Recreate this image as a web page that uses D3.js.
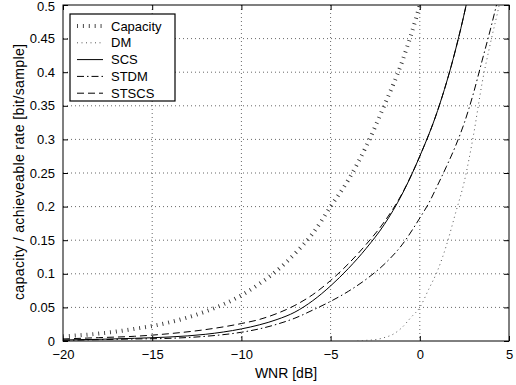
<!DOCTYPE html>
<html>
<head>
<meta charset="utf-8">
<script src="https://cdn.jsdelivr.net/npm/d3@7"></script>
<style>
  body { margin: 0; background: #fff; }
  text { font-family: "Liberation Sans", Arial, sans-serif; }
</style>
</head>
<body>
<div id="graph"></div>
<script>
// values: [WNR dB, rate]
const capacity = [[-20, 0.007], [-18, 0.011], [-16, 0.018], [-14, 0.028], [-12, 0.044], [-10, 0.068],
  [-9, 0.085], [-8, 0.105], [-7, 0.13], [-6, 0.16], [-5, 0.2], [-4, 0.24], [-3, 0.29], [-2, 0.35],
  [-1, 0.415], [0, 0.5], [0.3, 0.53]]
const dm = [[-3.5, 0], [-3, 0.001], [-2.5, 0.002], [-2, 0.005], [-1.5, 0.01], [-1, 0.02], [-0.5, 0.035],
  [0, 0.05], [0.5, 0.077], [1, 0.105], [1.5, 0.143], [2, 0.19], [2.5, 0.238], [3, 0.305], [3.5, 0.385],
  [4, 0.448], [4.45, 0.5], [4.6, 0.52]]
const scs = [[-20, 0.0015], [-18, 0.0025], [-16, 0.004], [-14, 0.006], [-12, 0.01], [-10, 0.018],
  [-9, 0.024], [-8, 0.032], [-7, 0.043], [-6, 0.06], [-5, 0.082], [-4, 0.108], [-3, 0.138], [-2, 0.173],
  [-1, 0.218], [0, 0.275], [1, 0.343], [2, 0.433], [2.6, 0.5], [2.8, 0.525]]
const stdm = [[-20, 0.001], [-18, 0.002], [-16, 0.003], [-14, 0.004], [-12, 0.007], [-10, 0.013],
  [-9, 0.018], [-8, 0.025], [-7, 0.034], [-6, 0.046], [-5, 0.059], [-4, 0.074], [-3, 0.092], [-2, 0.114],
  [-1, 0.143], [0, 0.183], [0.5, 0.205], [1, 0.232], [1.5, 0.26], [2, 0.29], [2.5, 0.325],
  [3, 0.368], [3.5, 0.418], [4, 0.468], [4.3, 0.5], [4.5, 0.52]]
const stscs = [[-20, 0.003], [-18, 0.005], [-16, 0.007], [-14, 0.011], [-12, 0.017], [-10, 0.026],
  [-9, 0.032], [-8, 0.041], [-7, 0.053], [-6, 0.069], [-5, 0.09], [-4, 0.115], [-3, 0.144], [-2, 0.177],
  [-1, 0.219], [0, 0.275], [1, 0.343], [2, 0.433], [2.6, 0.5], [2.8, 0.525]]

const seriesNames = ["Capacity", "DM", "SCS", "STDM", "STSCS"]
const xTicks = [-20, -15, -10, -5, 0, 5]
const yTicks = [0, 0.05, 0.1, 0.15, 0.2, 0.25, 0.3, 0.35, 0.4, 0.45, 0.5]

const MARGIN = { LEFT: 63, RIGHT: 7, TOP: 5, BOTTOM: 44 }
const WIDTH = 516 - MARGIN.LEFT - MARGIN.RIGHT
const HEIGHT = 385 - MARGIN.TOP - MARGIN.BOTTOM

const svg = d3.select("#graph").append("svg")
  .attr("width", 516)
  .attr("height", 385)

const g = svg.append("g")
  .attr("transform", `translate(${MARGIN.LEFT}, ${MARGIN.TOP})`)

const x = d3.scaleLinear().domain([-20, 5]).range([0, WIDTH])
const y = d3.scaleLinear().domain([0, 0.5]).range([HEIGHT, 0])

svg.append("defs").append("clipPath").attr("id", "plot")
  .append("rect").attr("width", WIDTH).attr("height", HEIGHT)

// grid
g.append("g").selectAll("line").data(xTicks.slice(1, -1)).enter().append("line")
  .attr("x1", d => x(d)).attr("x2", d => x(d)).attr("y1", 0).attr("y2", HEIGHT)
  .attr("stroke", "#000").attr("stroke-width", 0.6).attr("stroke-dasharray", "1,3")
g.append("g").selectAll("line").data(yTicks.slice(1, -1)).enter().append("line")
  .attr("y1", d => y(d)).attr("y2", d => y(d)).attr("x1", 0).attr("x2", WIDTH)
  .attr("stroke", "#000").attr("stroke-width", 0.6).attr("stroke-dasharray", "1,3")

// axes, ticks inside on all four sides
const tick = 5
const fmt = d => d < 0 ? "\u2212" + Math.abs(d) : String(d)
g.append("g").attr("transform", `translate(0, ${HEIGHT})`)
  .call(d3.axisBottom(x).tickValues(xTicks).tickSize(-tick).tickPadding(tick + 4).tickFormat(fmt))
g.append("g").call(d3.axisTop(x).tickValues(xTicks).tickSize(-tick).tickFormat(""))
const yAxis = g.append("g")
  .call(d3.axisLeft(y).tickValues(yTicks).tickSize(-tick).tickPadding(tick + 3).tickFormat(d => String(d)))
g.append("g").attr("transform", `translate(${WIDTH}, 0)`)
  .call(d3.axisRight(y).tickValues(yTicks).tickSize(-tick).tickFormat(""))
g.selectAll(".domain").remove()
g.selectAll(".tick text").attr("font-size", "13px").attr("font-family", "Liberation Sans, Arial, sans-serif").attr("fill", "#000")
g.selectAll(".tick line").attr("stroke", "#000")
// keep the top label inside the picture
yAxis.selectAll(".tick text").filter(d => d === 0.5).attr("dy", "0.45em")
g.append("rect").attr("width", WIDTH).attr("height", HEIGHT)
  .attr("fill", "none").attr("stroke", "#000").attr("stroke-width", 1)

// curves
const styles = {
  Capacity: { data: capacity, stroke: "#333", width: 4, dash: "0.9,5" },
  DM: { data: dm, stroke: "#555", width: 1, dash: "1,3.5" },
  SCS: { data: scs, stroke: "#000", width: 1, dash: null },
  STDM: { data: stdm, stroke: "#000", width: 1, dash: "7,3,1.5,3" },
  STSCS: { data: stscs, stroke: "#000", width: 1, dash: "7,4" }
}
const line = d3.line().x(d => x(d[0])).y(d => y(d[1])).curve(d3.curveMonotoneX)
const curves = g.append("g").attr("clip-path", "url(#plot)")
seriesNames.forEach(name => {
  const s = styles[name]
  curves.append("path").attr("d", line(s.data))
    .attr("fill", "none").attr("stroke", s.stroke).attr("stroke-width", s.width)
    .attr("stroke-dasharray", s.dash)
})

// legend
const legend = g.append("g").attr("transform", "translate(7, 9)")
legend.append("rect").attr("width", 105).attr("height", 87)
  .attr("fill", "#fff").attr("stroke", "#000").attr("stroke-width", 1.2)
seriesNames.forEach((name, i) => {
  const s = styles[name]
  const yy = 12 + i * 16.8
  legend.append("line").attr("x1", 7).attr("x2", 33).attr("y1", yy).attr("y2", yy)
    .attr("stroke", s.stroke).attr("stroke-width", s.width).attr("stroke-dasharray", s.dash)
  legend.append("text").attr("x", 41).attr("y", yy).attr("dy", "0.35em")
    .attr("font-size", "13px").text(name)
})

// labels
g.append("text").attr("x", WIDTH / 2).attr("y", HEIGHT + 37)
  .attr("text-anchor", "middle").attr("font-size", "14px").text("WNR [dB]")
g.append("text").attr("transform", "rotate(-90)")
  .attr("x", -167).attr("y", -39)
  .attr("text-anchor", "middle").attr("font-size", "14px")
  .attr("textLength", 256).attr("lengthAdjust", "spacing")
  .text("capacity / achieveable rate [bit/sample]")
</script>
</body>
</html>
